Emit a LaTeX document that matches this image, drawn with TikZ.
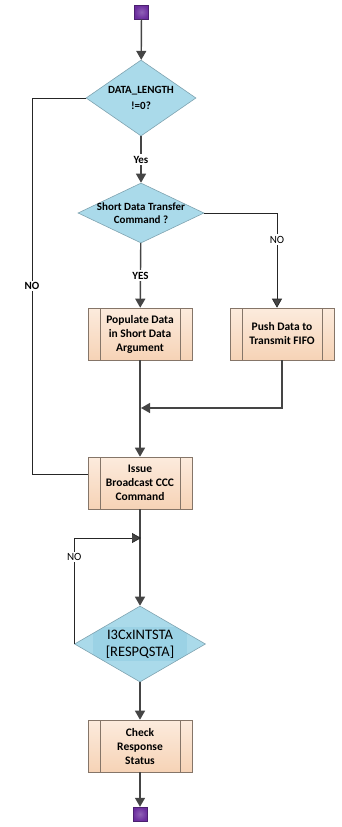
\documentclass[tikz,border=0pt]{standalone}
\usepackage{fontspec}
\setmainfont{Carlito}
\usepackage{tikz}
\usetikzlibrary{shapes.geometric,shadings,arrows.meta}
\definecolor{decfill}{HTML}{AADAEA}
\definecolor{decline}{HTML}{7FA3B0}
\definecolor{dectext}{HTML}{9BD2E5}
\definecolor{proctop}{HTML}{FCEBDD}
\definecolor{procbot}{HTML}{F6D3B6}
\definecolor{procline}{HTML}{857568}
\definecolor{termfill}{HTML}{6B2D9E}
\definecolor{flowgray}{HTML}{454545}

\begin{document}
\begin{tikzpicture}[
  x=1pt,y=-1pt,
  term/.style={rectangle,draw=termfill!70!black,inner color=termfill!75!white,outer color=termfill,minimum size=14pt,inner sep=0pt},
  dec/.style={diamond,draw=decline,fill=decfill,line width=0.6pt,inner sep=0pt},
  proc/.style={rectangle,draw=procline,top color=proctop,bottom color=procbot,line width=0.6pt,
    minimum width=104pt,minimum height=52pt,inner sep=0pt,align=center,
    font=\bfseries\fontsize{11.5}{14}\selectfont,
    path picture={\draw[procline,line width=0.6pt]
      ([xshift=12pt]path picture bounding box.north west) -- ([xshift=12pt]path picture bounding box.south west)
      ([xshift=-12pt]path picture bounding box.north east) -- ([xshift=-12pt]path picture bounding box.south east);}},
  flow/.style={draw=flowgray,line width=1.4pt,-{Triangle[length=9pt,width=10pt]}},
  ret/.style={draw=black!85,line width=0.7pt},
  retarr/.style={ret,-{Triangle[length=9pt,width=10pt,fill=flowgray]}},
  lbl/.style={fill=white,inner sep=1.5pt,font=\bfseries\fontsize{11}{13}\selectfont},
  lbln/.style={fill=white,inner sep=1.5pt,font=\fontsize{11}{13}\selectfont}
]
\useasboundingbox (0,0) rectangle (342,827);

\node[term] (start) at (141.5,12) {};
\node[dec,minimum width=110pt,minimum height=76pt,
  label={[align=center,font=\bfseries\fontsize{11}{16}\selectfont]center:DATA\_LENGTH\\!=0?}] (d1) at (141,98) {};
\node[dec,minimum width=126pt,minimum height=60pt,
  label={[align=center,font=\bfseries\fontsize{11}{13}\selectfont]center:Short Data Transfer\\Command ?}] (d2) at (141,213) {};
\node[proc] (pop) at (140,334) {Populate Data\\ in Short Data\\Argument};
\node[proc] (push) at (282,334) {Push Data to\\Transmit FIFO};
\node[proc] (issue) at (140,483) {Issue\\Broadcast CCC\\Command};
\node[dec,minimum width=131pt,minimum height=76pt,
  path picture={\fill[dectext] ([xshift=-47pt,yshift=-17pt]path picture bounding box.center)
    rectangle ([xshift=47pt,yshift=17pt]path picture bounding box.center);},
  label={[align=center,font=\fontsize{14.5}{17}\selectfont]center:I3CxINTSTA\\{[}RESPQSTA{]}}] (d3) at (140,644) {};
\node[proc] (check) at (140,746) {Check\\Response\\Status};
\node[term] (stop) at (140,814) {};

\coordinate (nl) at (32,98);
\coordinate (m) at (141,408);
\coordinate (lj) at (141,538);

\draw[flow] (start) -- (d1);
\draw[flow] (d1) -- node[lbl] {Yes} (d2);
\draw[flow] (d2) -- node[lbl] {YES} (pop);
\draw[retarr] (d2.east) -| node[lbln,pos=0.64] {NO} ([xshift=-5pt]push.north);
\draw[flow] (push.south) |- (m);
\draw[flow] (pop) -- (issue);
\draw[ret] (d1.west) -- (nl) |- node[lbl,pos=0.25] {NO} ([yshift=9pt]issue.west);
\draw[flow] (issue) -- (d3);
\draw[retarr] (d3.west) |- node[lbln,pos=0.41] {NO} (lj);
\draw[flow] (d3) -- (check);
\draw[flow] (check) -- (stop);
\end{tikzpicture}
\end{document}
